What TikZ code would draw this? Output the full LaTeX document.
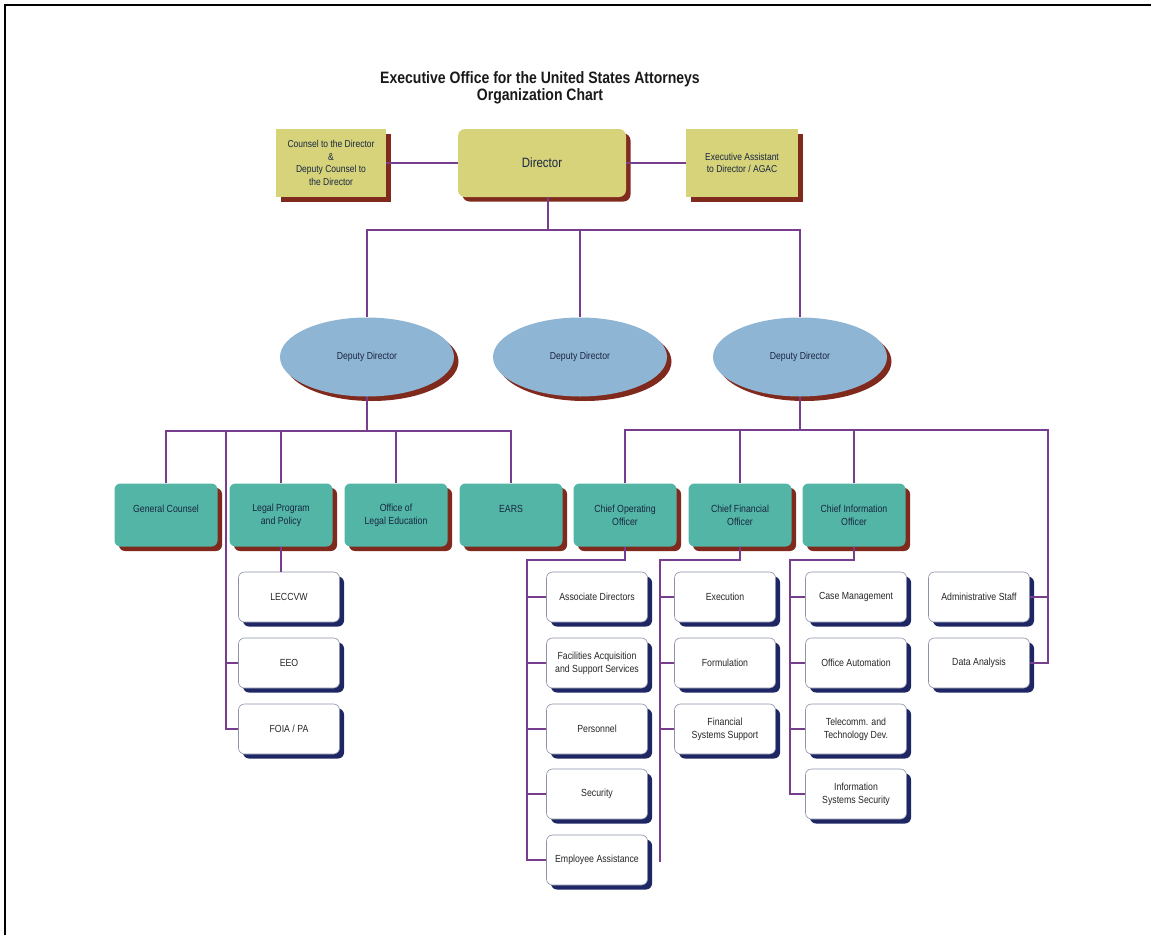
\documentclass[tikz,border=0pt]{standalone}
\usepackage{fontspec}
\setmainfont{Liberation Sans}[FakeStretch=0.85]
\usetikzlibrary{shapes.geometric,shadows}

\definecolor{boxyellow}{RGB}{214,211,122}
\definecolor{deputyblue}{RGB}{143,181,213}
\definecolor{officegreen}{RGB}{82,181,166}
\definecolor{shadowred}{RGB}{128,42,30}
\definecolor{shadownavy}{RGB}{30,38,100}
\definecolor{linkpurple}{RGB}{118,62,140}
\definecolor{unitedge}{RGB}{140,146,170}
\definecolor{inkblue}{RGB}{25,38,65}

\tikzset{
  redshadow/.style={drop shadow={shadow xshift=4.5pt,shadow yshift=-4.5pt,fill=shadowred,opacity=1}},
  navyshadow/.style={drop shadow={shadow xshift=4.5pt,shadow yshift=-4.5pt,fill=shadownavy,opacity=1}},
  headbox/.style={rectangle, fill=boxyellow, redshadow, minimum height=68pt,
    align=center, text=inkblue, font=\fontsize{10}{12.5}\selectfont, inner sep=2pt},
  dirbox/.style={headbox, rounded corners=7pt, minimum width=168pt, font=\fontsize{13.5}{15}\selectfont},
  deputy/.style={ellipse, fill=deputyblue, redshadow, minimum width=174pt, minimum height=79pt,
    text=inkblue, font=\fontsize{10.2}{12}\selectfont},
  officebox/.style={rectangle, rounded corners=6pt, fill=officegreen, redshadow,
    minimum width=103pt, minimum height=63pt, align=center, text=inkblue,
    font=\fontsize{10.3}{13}\selectfont},
  unitbox/.style={rectangle, rounded corners=6pt, fill=white, draw=unitedge, line width=0.6pt,
    navyshadow, minimum width=101pt, minimum height=50pt, align=center, text=black!85,
    font=\fontsize{10.3}{13}\selectfont},
  link/.style={draw=linkpurple, line width=1.3pt}
}

\begin{document}
\begin{tikzpicture}[x=1pt, y=-1pt]
  \useasboundingbox (0,0) rectangle (1151,935);
  % frame
  \draw[line width=2.6pt] (5,935) -- (5,5) -- (1151,5);

  % title
  \node[align=center, font=\bfseries\fontsize{16.5}{16.5}\selectfont, text=black!90] (title) at (540,88)
    {Executive Office for the United States Attorneys\\Organization Chart};

  % top row
  \node[headbox, minimum width=110pt] (counsel) at (331,163)
    {Counsel to the Director\\\&\\Deputy Counsel to\\the Director};
  \node[dirbox] (director) at (542,163) {Director};
  \node[headbox, minimum width=112pt] (execasst) at (742,163)
    {Executive Assistant\\to Director / AGAC};

  % deputy directors
  \node[deputy] (dep1) at (367,357) {Deputy Director};
  \node[deputy] (dep2) at (580,357) {Deputy Director};
  \node[deputy] (dep3) at (800,357) {Deputy Director};

  % offices
  \node[officebox] (gencounsel) at (166,515) {General Counsel\\\mbox{}};
  \node[officebox] (lpp) at (281,515) {Legal Program\\and Policy};
  \node[officebox] (legaled) at (396,515) {Office of\\Legal Education};
  \node[officebox] (ears) at (511,515) {EARS\\\mbox{}};
  \node[officebox] (coo) at (625,515) {Chief Operating\\Officer};
  \node[officebox] (cfo) at (740,515) {Chief Financial\\Officer};
  \node[officebox] (cio) at (854,515) {Chief Information\\Officer};

  % units under legal program / deputy
  \node[unitbox] (leccvw) at (289,597) {LECCVW};
  \node[unitbox] (eeo) at (289,663) {EEO};
  \node[unitbox] (foia) at (289,729) {FOIA / PA};

  % units under COO
  \node[unitbox] (assocdir) at (597,597) {Associate Directors};
  \node[unitbox] (facilities) at (597,663) {Facilities Acquisition\\and Support Services};
  \node[unitbox] (personnel) at (597,729) {Personnel};
  \node[unitbox] (security) at (597,794) {Security};
  \node[unitbox] (empassist) at (597,860) {Employee Assistance};

  % units under CFO
  \node[unitbox] (execution) at (725,597) {Execution};
  \node[unitbox] (formulation) at (725,663) {Formulation};
  \node[unitbox] (finsys) at (725,729) {Financial\\Systems Support};

  % units under CIO
  \node[unitbox] (casemgmt) at (856,597) {Case Management};
  \node[unitbox] (officeauto) at (856,663) {Office Automation};
  \node[unitbox] (telecomm) at (856,729) {Telecomm. and\\Technology Dev.};
  \node[unitbox] (infosec) at (856,794) {Information\\Systems Security};

  % staff units
  \node[unitbox] (adminstaff) at (979,597) {Administrative Staff};
  \node[unitbox] (dataana) at (979,663) {Data Analysis};

  % bus points
  \coordinate (topbus) at (548,230);
  \coordinate (leftbus) at (367,431);
  \coordinate (lspine) at (226,431);
  \coordinate (rightbus) at (800,430);
  \coordinate (rspine) at (1048,430);
  \coordinate (coospine) at (527,560);
  \coordinate (cfospine) at (660,560);
  \coordinate (cfoend) at (660,862);
  \coordinate (ciospine) at (790,560);

  % connectors, top
  \draw[link] (counsel.east) -- (director.west);
  \draw[link] (director.east) -- (execasst.west);
  \draw[link] (director.south -| topbus) -- (topbus);
  \draw[link] (dep1.north) |- (topbus) -| (dep3.north);
  \draw[link] (dep2.north) -- (dep2.north |- topbus);

  % left deputy
  \draw[link] (dep1.south) -- (leftbus);
  \draw[link] (gencounsel.north) |- (leftbus) -| (ears.north);
  \draw[link] (lpp.north) -- (lpp.north |- leftbus);
  \draw[link] (legaled.north) -- (legaled.north |- leftbus);
  \draw[link] (lspine) |- (foia.west);
  \draw[link] (lspine |- eeo.west) -- (eeo.west);
  \draw[link] (lpp.south) -- (lpp.south |- leccvw.north);

  % right deputy
  \draw[link] (dep3.south) -- (rightbus);
  \draw[link] (coo.north) |- (rspine) |- (dataana.east);
  \draw[link] (cfo.north) -- (cfo.north |- rspine);
  \draw[link] (cio.north) -- (cio.north |- rspine);
  \draw[link] (rspine |- adminstaff.east) -- (adminstaff.east);

  % chief officers
  \draw[link] (coo.south) |- (coospine) |- (empassist.west);
  \foreach \unit in {assocdir,facilities,personnel,security}
    \draw[link] (coospine |- \unit.west) -- (\unit.west);
  \draw[link] (cfo.south) |- (cfospine) -- (cfoend);
  \foreach \unit in {execution,formulation,finsys}
    \draw[link] (cfospine |- \unit.west) -- (\unit.west);
  \draw[link] (cio.south) |- (ciospine) |- (infosec.west);
  \foreach \unit in {casemgmt,officeauto,telecomm}
    \draw[link] (ciospine |- \unit.west) -- (\unit.west);
\end{tikzpicture}
\end{document}
